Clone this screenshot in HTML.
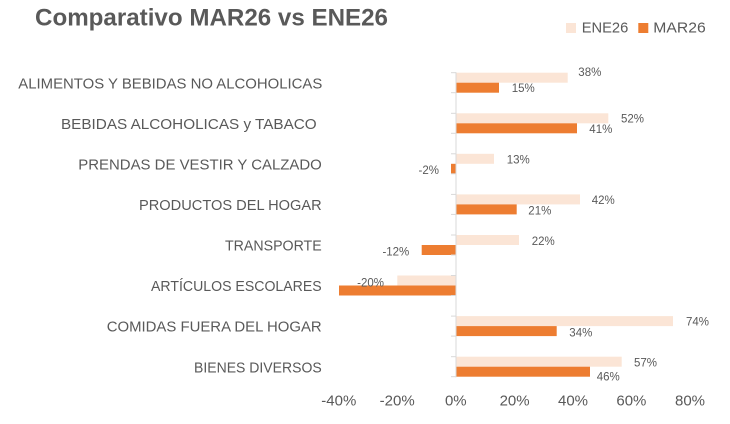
<!DOCTYPE html>
<html>
<head>
<meta charset="utf-8">
<style>
html,body{margin:0;padding:0;background:#fff;}
svg{display:block;}
text{font-family:"Liberation Sans",sans-serif;fill:#595959;}
</style>
</head>
<body>
<svg width="730" height="424" viewBox="0 0 730 424" xmlns="http://www.w3.org/2000/svg">
<rect width="730" height="424" fill="#fff"/>
<!-- Title -->
<text x="35" y="25.7" font-size="24" font-weight="bold" textLength="353" lengthAdjust="spacingAndGlyphs">Comparativo MAR26 vs ENE26</text>
<!-- Legend -->
<rect x="566" y="23" width="10" height="10" fill="#fbe5d6"/>
<text x="581.7" y="32.7" font-size="15" textLength="46.6" lengthAdjust="spacingAndGlyphs">ENE26</text>
<rect x="638.3" y="23" width="10" height="10" fill="#ed7d31"/>
<text x="653.3" y="32.7" font-size="15" textLength="52.4" lengthAdjust="spacingAndGlyphs">MAR26</text>

<!-- Category labels -->
<g font-size="15">
<text x="18.3" y="88.3" textLength="304" lengthAdjust="spacingAndGlyphs">ALIMENTOS Y BEBIDAS NO ALCOHOLICAS</text>
<text x="61" y="128.9" textLength="255.7" lengthAdjust="spacingAndGlyphs">BEBIDAS ALCOHOLICAS y TABACO</text>
<text x="78.3" y="169.4" textLength="243.5" lengthAdjust="spacingAndGlyphs">PRENDAS DE VESTIR Y CALZADO</text>
<text x="139" y="210" textLength="182.7" lengthAdjust="spacingAndGlyphs">PRODUCTOS DEL HOGAR</text>
<text x="225" y="250.6" textLength="96.7" lengthAdjust="spacingAndGlyphs">TRANSPORTE</text>
<text x="151" y="291.1" textLength="170.7" lengthAdjust="spacingAndGlyphs">ARTÍCULOS ESCOLARES</text>
<text x="106.7" y="331.7" textLength="215" lengthAdjust="spacingAndGlyphs">COMIDAS FUERA DEL HOGAR</text>
<text x="194" y="372.3" textLength="127.7" lengthAdjust="spacingAndGlyphs">BIENES DIVERSOS</text>
</g>

<!-- Bars -->
<g>
<!-- Row1 -->
<rect x="456.5" y="72.7" width="111.2" height="10" fill="#fbe5d6"/>
<rect x="456.5" y="82.7" width="42.5" height="10" fill="#ed7d31"/>
<!-- Row2 -->
<rect x="456.5" y="113.3" width="151.8" height="10" fill="#fbe5d6"/>
<rect x="456.5" y="123.3" width="120.5" height="10" fill="#ed7d31"/>
<!-- Row3 -->
<rect x="456.5" y="153.8" width="37.5" height="10" fill="#fbe5d6"/>
<rect x="451" y="163.8" width="5" height="10" fill="#ed7d31"/>
<!-- Row4 -->
<rect x="456.5" y="194.4" width="123.5" height="10" fill="#fbe5d6"/>
<rect x="456.5" y="204.4" width="60.2" height="10" fill="#ed7d31"/>
<!-- Row5 -->
<rect x="456.5" y="235" width="62.5" height="10" fill="#fbe5d6"/>
<rect x="421.7" y="245" width="34.3" height="10" fill="#ed7d31"/>
<!-- Row6 -->
<rect x="397.3" y="275.5" width="58.7" height="10" fill="#fbe5d6"/>
<rect x="339" y="285.5" width="117" height="10" fill="#ed7d31"/>
<!-- Row7 -->
<rect x="456.5" y="316.1" width="216.5" height="10" fill="#fbe5d6"/>
<rect x="456.5" y="326.1" width="100.2" height="10" fill="#ed7d31"/>
<!-- Row8 -->
<rect x="456.5" y="356.7" width="165.2" height="10" fill="#fbe5d6"/>
<rect x="456.5" y="366.7" width="133.5" height="10" fill="#ed7d31"/>
</g>

<!-- Axis line and ticks -->
<g stroke="#d9d9d9" stroke-width="1">
<line x1="456" y1="72.2" x2="456" y2="377.2"/>
<line x1="451" y1="72.7" x2="456" y2="72.7"/>
<line x1="451" y1="92.7" x2="456" y2="92.7"/>
<line x1="451" y1="113.3" x2="456" y2="113.3"/>
<line x1="451" y1="133.3" x2="456" y2="133.3"/>
<line x1="451" y1="153.8" x2="456" y2="153.8"/>
<line x1="451" y1="173.8" x2="456" y2="173.8"/>
<line x1="451" y1="194.4" x2="456" y2="194.4"/>
<line x1="451" y1="214.4" x2="456" y2="214.4"/>
<line x1="451" y1="235" x2="456" y2="235"/>
<line x1="451" y1="255" x2="456" y2="255"/>
<line x1="451" y1="275.5" x2="456" y2="275.5"/>
<line x1="451" y1="295.5" x2="456" y2="295.5"/>
<line x1="451" y1="316.1" x2="456" y2="316.1"/>
<line x1="451" y1="336.1" x2="456" y2="336.1"/>
<line x1="451" y1="356.7" x2="456" y2="356.7"/>
<line x1="451" y1="376.7" x2="456" y2="376.7"/>
</g>

<!-- Data labels -->
<g font-size="11.5">
<text x="578.3" y="75.9">38%</text>
<text x="511.7" y="91.8">15%</text>
<text x="621" y="122.5">52%</text>
<text x="589.3" y="133.2">41%</text>
<text x="506.7" y="163.5">13%</text>
<text x="439" y="174" text-anchor="end">-2%</text>
<text x="591.7" y="204">42%</text>
<text x="528.3" y="214.7">21%</text>
<text x="531.7" y="245">22%</text>
<text x="409.3" y="255.7" text-anchor="end">-12%</text>
<text x="384" y="286.3" text-anchor="end">-20%</text>
<text x="686" y="325.7">74%</text>
<text x="569.3" y="336.3">34%</text>
<text x="634" y="366.7">57%</text>
<text x="596.7" y="380.7">46%</text>
</g>

<!-- X axis labels -->
<g font-size="15" text-anchor="middle">
<text x="338.8" y="405.6">-40%</text>
<text x="397.2" y="405.6">-20%</text>
<text x="455.8" y="405.6">0%</text>
<text x="514.6" y="405.6">20%</text>
<text x="573" y="405.6">40%</text>
<text x="631.4" y="405.6">60%</text>
<text x="690" y="405.6">80%</text>
</g>
</svg>
</body>
</html>
